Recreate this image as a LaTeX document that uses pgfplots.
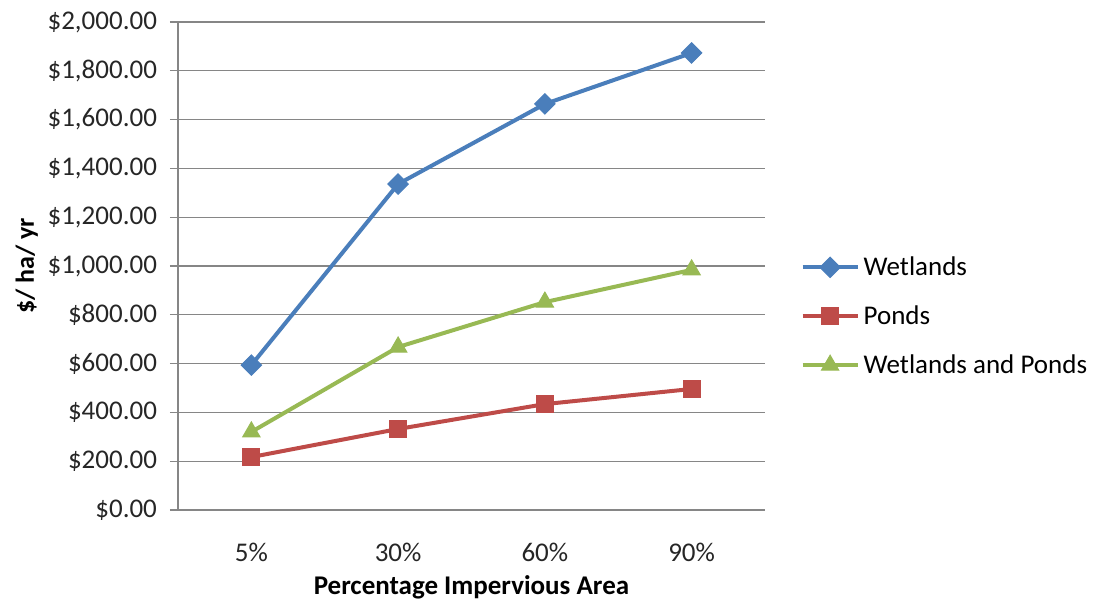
\documentclass[border=0pt]{standalone}
\usepackage{fontspec}
\setmainfont{Carlito}
\usepackage{pgfplots}
\pgfplotsset{compat=1.18}

\definecolor{wetblue}{HTML}{4A7EBB}
\definecolor{pondred}{HTML}{BE4B48}
\definecolor{wpgreen}{HTML}{98B954}
\definecolor{gridgray}{HTML}{868686}

\begin{document}
\begin{tikzpicture}
\begin{axis}[
  scale only axis,
  width=293.5pt, height=244pt,
  xmin=-0.5, xmax=3.5,
  ymin=0, ymax=2000,
  xtick={0,1,2,3},
  xticklabels={5\%,30\%,60\%,90\%},
  ytick={0,200,...,2000},
  yticklabels={\$0.00,\$200.00,\$400.00,\$600.00,\$800.00,\$1{,}000.00,\$1{,}200.00,\$1{,}400.00,\$1{,}600.00,\$1{,}800.00,\$2{,}000.00},
  /pgf/number format/assume math mode=true,
  axis x line*=bottom,
  axis y line*=left,
  axis line style={gridgray, line width=0.6pt, -},
  ymajorgrids,
  grid style={gridgray, line width=0.6pt},
  xtick style={draw=none},
  ytick style={gridgray, line width=0.6pt},
  tick align=outside,
  major tick length=4pt,
  ticklabel style={font=\fontsize{13.5}{16}\selectfont, text=black!85},
  xticklabel style={yshift=-9pt},
  yticklabel style={xshift=-3pt},
  xlabel={\textbf{Percentage Impervious Area}},
  ylabel={\textbf{\$/ ha/ yr}},
  xlabel style={font=\fontsize{13.5}{16}\selectfont, yshift=0pt},
  ylabel style={font=\fontsize{13}{16}\selectfont, yshift=-2pt},
  legend style={at={(1.06,0.397)}, anchor=west, draw=none, fill=none,
    font=\fontsize{13.5}{16}\selectfont, row sep=9.6pt,
    inner sep=0pt},
  legend cell align=left,
  legend image code/.code={
    \draw[#1, mark repeat=2, mark phase=2] plot coordinates {(0pt,0pt) (13.75pt,0pt) (27.5pt,0pt)};
  },
  every axis plot/.append style={line width=2pt},
]
\addplot[wetblue, mark=square*, mark size=3.6pt, mark options={rotate=45, line width=0.5pt}]
  coordinates {(0,594) (1,1336) (2,1664) (3,1873)};
\addlegendentry{Wetlands}
\addplot[pondred, mark=square*, mark size=4.3pt, mark options={line width=0.5pt}]
  coordinates {(0,217) (1,332) (2,434) (3,496)};
\addlegendentry{Ponds}
\addplot[wpgreen, mark=triangle*, mark size=5pt, mark options={line width=0.5pt}]
  coordinates {(0,320) (1,668) (2,852) (3,984)};
\addlegendentry{Wetlands and Ponds}
\end{axis}
\path[use as bounding box] ([xshift=-89pt,yshift=-45.5pt]current axis.south west)
  rectangle ([xshift=164.5pt,yshift=11pt]current axis.north east);
\end{tikzpicture}
\end{document}
